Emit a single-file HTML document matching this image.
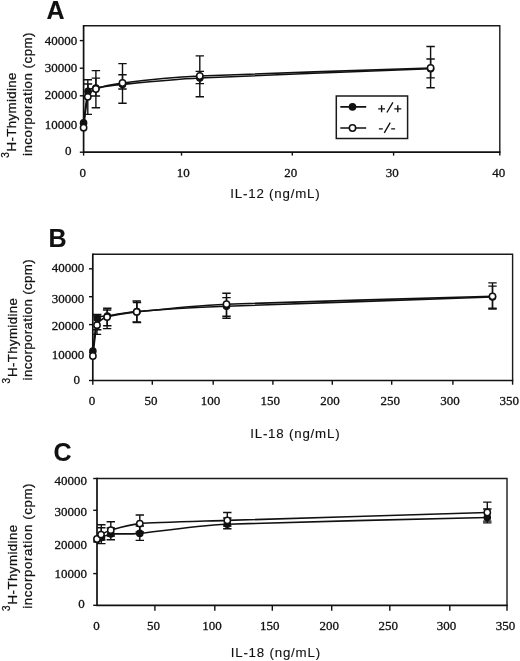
<!DOCTYPE html>
<html><head><meta charset="utf-8"><title>Thymidine incorporation</title>
<style>
html,body{margin:0;padding:0;background:#fff;}
svg{display:block;filter:grayscale(1);}
text{fill:#111;stroke:#111;stroke-width:0.12px;}
</style></head>
<body>
<svg width="520" height="661" viewBox="0 0 520 661">
<rect width="520" height="661" fill="#fff"/>
<path d="M83.6 25.8H499.8V152.2" fill="none" stroke="#1a1a1a" stroke-width="1.4"/>
<path d="M83.6 25.1V152.2H500.5" fill="none" stroke="#111" stroke-width="1.7"/>
<path d="M79.8 152.2H83.6" stroke="#111" stroke-width="1.4"/>
<path d="M79.8 123.6H83.6" stroke="#111" stroke-width="1.4"/>
<path d="M79.8 95.8H83.6" stroke="#111" stroke-width="1.4"/>
<path d="M79.8 68.2H83.6" stroke="#111" stroke-width="1.4"/>
<path d="M79.8 40.6H83.6" stroke="#111" stroke-width="1.4"/>
<path d="M83.6 152.2V155.6" stroke="#111" stroke-width="1.4"/>
<path d="M181.5 152.2V155.6" stroke="#111" stroke-width="1.4"/>
<path d="M292.3 152.2V155.6" stroke="#111" stroke-width="1.4"/>
<path d="M393.6 152.2V155.6" stroke="#111" stroke-width="1.4"/>
<path d="M499.8 152.2V155.6" stroke="#111" stroke-width="1.4"/>
<text x="71.4" y="155.35" text-anchor="end" style="font-family:'Liberation Serif',serif;font-size:13px;stroke-width:0.3px">0</text>
<text x="77.3" y="129.35" text-anchor="end" style="font-family:'Liberation Serif',serif;font-size:13px;stroke-width:0.3px">10000</text>
<text x="77.3" y="99" text-anchor="end" style="font-family:'Liberation Serif',serif;font-size:13px;stroke-width:0.3px">20000</text>
<text x="77.3" y="72.25" text-anchor="end" style="font-family:'Liberation Serif',serif;font-size:13px;stroke-width:0.3px">30000</text>
<text x="77.3" y="45.4" text-anchor="end" style="font-family:'Liberation Serif',serif;font-size:13px;stroke-width:0.3px">40000</text>
<text x="82.8" y="177.2" text-anchor="middle" style="font-family:'Liberation Serif',serif;font-size:13px;stroke-width:0.3px">0</text>
<text x="183.2" y="177.2" text-anchor="middle" style="font-family:'Liberation Serif',serif;font-size:13px;stroke-width:0.3px">10</text>
<text x="290.8" y="177.2" text-anchor="middle" style="font-family:'Liberation Serif',serif;font-size:13px;stroke-width:0.3px">20</text>
<text x="392.2" y="177.2" text-anchor="middle" style="font-family:'Liberation Serif',serif;font-size:13px;stroke-width:0.3px">30</text>
<text x="498.8" y="177.2" text-anchor="middle" style="font-family:'Liberation Serif',serif;font-size:13px;stroke-width:0.3px">40</text>
<text x="230.3" y="197.6" style="font-family:'Liberation Sans',sans-serif;font-size:13.3px;letter-spacing:0.8px">IL-12 (ng/mL)</text>
<text transform="translate(16.2,157.8) rotate(-90)" style="font-family:'Liberation Sans',sans-serif;font-size:13.3px;stroke-width:0.25px;letter-spacing:0.34px"><tspan font-size="10px" dy="-6.8">3</tspan><tspan dy="6.8" dx="0.5">H-Thymidine</tspan></text>
<text transform="translate(32,156) rotate(-90)" style="font-family:'Liberation Sans',sans-serif;font-size:13.3px;stroke-width:0.25px;letter-spacing:0.5px">incorporation (cpm)</text>
<text x="46.5" y="18.8" style="font-family:'Liberation Sans',sans-serif;font-weight:bold;font-size:25px">A</text>
<path d="M92.8 254.2H512.6V380.5" fill="none" stroke="#1a1a1a" stroke-width="1.4"/>
<path d="M92.8 253.5V380.5H513.3" fill="none" stroke="#111" stroke-width="1.7"/>
<path d="M89 380.5H92.8" stroke="#111" stroke-width="1.4"/>
<path d="M89 352.6H92.8" stroke="#111" stroke-width="1.4"/>
<path d="M89 324.6H92.8" stroke="#111" stroke-width="1.4"/>
<path d="M89 296.7H92.8" stroke="#111" stroke-width="1.4"/>
<path d="M89 268.8H92.8" stroke="#111" stroke-width="1.4"/>
<path d="M92.8 380.5V384.7" stroke="#111" stroke-width="1.4"/>
<path d="M152.3 380.5V384.7" stroke="#111" stroke-width="1.4"/>
<path d="M213.2 380.5V384.7" stroke="#111" stroke-width="1.4"/>
<path d="M272.9 380.5V384.7" stroke="#111" stroke-width="1.4"/>
<path d="M332.3 380.5V384.7" stroke="#111" stroke-width="1.4"/>
<path d="M391.7 380.5V384.7" stroke="#111" stroke-width="1.4"/>
<path d="M452.9 380.5V384.7" stroke="#111" stroke-width="1.4"/>
<path d="M512.6 380.5V384.7" stroke="#111" stroke-width="1.4"/>
<text x="80" y="383.75" text-anchor="end" style="font-family:'Liberation Serif',serif;font-size:13px;stroke-width:0.3px">0</text>
<text x="84.3" y="358.9" text-anchor="end" style="font-family:'Liberation Serif',serif;font-size:13px;stroke-width:0.3px">10000</text>
<text x="84.3" y="329.5" text-anchor="end" style="font-family:'Liberation Serif',serif;font-size:13px;stroke-width:0.3px">20000</text>
<text x="84.3" y="303" text-anchor="end" style="font-family:'Liberation Serif',serif;font-size:13px;stroke-width:0.3px">30000</text>
<text x="84.3" y="272.15" text-anchor="end" style="font-family:'Liberation Serif',serif;font-size:13px;stroke-width:0.3px">40000</text>
<text x="92.1" y="404.8" text-anchor="middle" style="font-family:'Liberation Serif',serif;font-size:13px;stroke-width:0.3px">0</text>
<text x="151.1" y="404.8" text-anchor="middle" style="font-family:'Liberation Serif',serif;font-size:13px;stroke-width:0.3px">50</text>
<text x="210.5" y="404.8" text-anchor="middle" style="font-family:'Liberation Serif',serif;font-size:13px;stroke-width:0.3px">100</text>
<text x="270.2" y="404.8" text-anchor="middle" style="font-family:'Liberation Serif',serif;font-size:13px;stroke-width:0.3px">150</text>
<text x="330" y="404.8" text-anchor="middle" style="font-family:'Liberation Serif',serif;font-size:13px;stroke-width:0.3px">200</text>
<text x="390.3" y="404.8" text-anchor="middle" style="font-family:'Liberation Serif',serif;font-size:13px;stroke-width:0.3px">250</text>
<text x="449.9" y="404.8" text-anchor="middle" style="font-family:'Liberation Serif',serif;font-size:13px;stroke-width:0.3px">300</text>
<text x="509.3" y="404.8" text-anchor="middle" style="font-family:'Liberation Serif',serif;font-size:13px;stroke-width:0.3px">350</text>
<text x="250.2" y="437.8" style="font-family:'Liberation Sans',sans-serif;font-size:13.3px;letter-spacing:0.8px">IL-18 (ng/mL)</text>
<text transform="translate(16.5,383.5) rotate(-90)" style="font-family:'Liberation Sans',sans-serif;font-size:13.3px;stroke-width:0.25px;letter-spacing:0.36px"><tspan font-size="10px" dy="-6.8">3</tspan><tspan dy="6.8" dx="0.5">H-Thymidine</tspan></text>
<text transform="translate(32.2,380.4) rotate(-90)" style="font-family:'Liberation Sans',sans-serif;font-size:13.3px;stroke-width:0.25px;letter-spacing:0.36px">incorporation (cpm)</text>
<text x="48.6" y="247.3" style="font-family:'Liberation Sans',sans-serif;font-weight:bold;font-size:25px">B</text>
<path d="M97 478.5H507V605.3" fill="none" stroke="#1a1a1a" stroke-width="1.4"/>
<path d="M97 477.8V605.3H507.7" fill="none" stroke="#111" stroke-width="1.7"/>
<path d="M93.2 605.3H97" stroke="#111" stroke-width="1.4"/>
<path d="M93.2 573.6H97" stroke="#111" stroke-width="1.4"/>
<path d="M93.2 541.9H97" stroke="#111" stroke-width="1.4"/>
<path d="M93.2 510.3H97" stroke="#111" stroke-width="1.4"/>
<path d="M93.2 478.5H97" stroke="#111" stroke-width="1.4"/>
<path d="M154.9 605.3V610.8" stroke="#111" stroke-width="1.4"/>
<path d="M214.8 605.3V610.8" stroke="#111" stroke-width="1.4"/>
<path d="M272.3 605.3V610.8" stroke="#111" stroke-width="1.4"/>
<path d="M331.7 605.3V610.8" stroke="#111" stroke-width="1.4"/>
<path d="M389.8 605.3V610.8" stroke="#111" stroke-width="1.4"/>
<path d="M449.8 605.3V610.8" stroke="#111" stroke-width="1.4"/>
<path d="M507 605.3V610.8" stroke="#111" stroke-width="1.4"/>
<text x="84.7" y="608.35" text-anchor="end" style="font-family:'Liberation Serif',serif;font-size:13px;stroke-width:0.3px">0</text>
<text x="86.9" y="577.9" text-anchor="end" style="font-family:'Liberation Serif',serif;font-size:13px;stroke-width:0.3px">10000</text>
<text x="86.9" y="548.75" text-anchor="end" style="font-family:'Liberation Serif',serif;font-size:13px;stroke-width:0.3px">20000</text>
<text x="86.9" y="515.5" text-anchor="end" style="font-family:'Liberation Serif',serif;font-size:13px;stroke-width:0.3px">30000</text>
<text x="86.9" y="484.85" text-anchor="end" style="font-family:'Liberation Serif',serif;font-size:13px;stroke-width:0.3px">40000</text>
<text x="96.6" y="629.6" text-anchor="middle" style="font-family:'Liberation Serif',serif;font-size:13px;stroke-width:0.3px">0</text>
<text x="153.5" y="629.6" text-anchor="middle" style="font-family:'Liberation Serif',serif;font-size:13px;stroke-width:0.3px">50</text>
<text x="212.1" y="629.6" text-anchor="middle" style="font-family:'Liberation Serif',serif;font-size:13px;stroke-width:0.3px">100</text>
<text x="269.8" y="629.6" text-anchor="middle" style="font-family:'Liberation Serif',serif;font-size:13px;stroke-width:0.3px">150</text>
<text x="329.2" y="629.6" text-anchor="middle" style="font-family:'Liberation Serif',serif;font-size:13px;stroke-width:0.3px">200</text>
<text x="388.3" y="629.6" text-anchor="middle" style="font-family:'Liberation Serif',serif;font-size:13px;stroke-width:0.3px">250</text>
<text x="446.5" y="629.6" text-anchor="middle" style="font-family:'Liberation Serif',serif;font-size:13px;stroke-width:0.3px">300</text>
<text x="505.5" y="629.6" text-anchor="middle" style="font-family:'Liberation Serif',serif;font-size:13px;stroke-width:0.3px">350</text>
<text x="230.7" y="657.1" style="font-family:'Liberation Sans',sans-serif;font-size:13.3px;letter-spacing:0.8px">IL-18 (ng/mL)</text>
<text transform="translate(16.5,610.9) rotate(-90)" style="font-family:'Liberation Sans',sans-serif;font-size:13.3px;stroke-width:0.25px;letter-spacing:0.42px"><tspan font-size="10px" dy="-6.8">3</tspan><tspan dy="6.8" dx="0.5">H-Thymidine</tspan></text>
<text transform="translate(32.2,608.8) rotate(-90)" style="font-family:'Liberation Sans',sans-serif;font-size:13.3px;stroke-width:0.25px;letter-spacing:0.6px">incorporation (cpm)</text>
<text x="53.5" y="461" style="font-family:'Liberation Sans',sans-serif;font-weight:bold;font-size:25px">C</text>
<path d="M87.8 79.8V114.4M83.6 79.8H92M83.6 114.4H92" fill="none" stroke="#111" stroke-width="1.4"/>
<path d="M95.9 70.6V107.8M91.7 70.6H100.1M91.7 107.8H100.1" fill="none" stroke="#111" stroke-width="1.4"/>
<path d="M122.5 63.6V103.2M118.3 63.6H126.7M118.3 103.2H126.7" fill="none" stroke="#111" stroke-width="1.4"/>
<path d="M199.8 55.9V96.7M195.6 55.9H204M195.6 96.7H204" fill="none" stroke="#111" stroke-width="1.4"/>
<path d="M430.6 46.5V87.8M426.4 46.5H434.8M426.4 87.8H434.8" fill="none" stroke="#111" stroke-width="1.4"/>
<path d="M88 84V96M83.8 84H92.2M83.8 96H92.2" fill="none" stroke="#111" stroke-width="1.4"/>
<path d="M95.9 78.1V96M91.7 78.1H100.1M91.7 96H100.1" fill="none" stroke="#111" stroke-width="1.4"/>
<path d="M122.5 74.8V89M118.3 74.8H126.7M118.3 89H126.7" fill="none" stroke="#111" stroke-width="1.4"/>
<path d="M199.8 71.4V83.6M195.6 71.4H204M195.6 83.6H204" fill="none" stroke="#111" stroke-width="1.4"/>
<path d="M430.6 59V77.9M426.4 59H434.8M426.4 77.9H434.8" fill="none" stroke="#111" stroke-width="1.4"/>
<path d="M83.6 122.9 C84.04 119.75 86.77 94.89 88 91.4 C89.23 87.91 92.45 88.7 95.9 88 C99.35 87.3 112.11 85.4 122.5 84.4 C132.89 83.4 168.99 79.56 199.8 78 C230.61 76.44 407.52 69.72 430.6 68.8" fill="none" stroke="#111" stroke-width="1.6" stroke-linejoin="round"/>
<path d="M83.6 127.7 C84.02 124.61 86.57 100.67 87.8 96.8 C89.03 92.93 92.43 90.38 95.9 89 C99.37 87.62 112.11 84.3 122.5 83 C132.89 81.7 168.99 77.5 199.8 76 C230.61 74.5 407.52 68.8 430.6 68" fill="none" stroke="#111" stroke-width="1.6" stroke-linejoin="round"/>
<circle cx="83.6" cy="122.9" r="3.15" fill="#111" stroke="#111" stroke-width="1.3"/>
<circle cx="88" cy="91.4" r="3.15" fill="#111" stroke="#111" stroke-width="1.3"/>
<circle cx="95.9" cy="88" r="3.15" fill="#111" stroke="#111" stroke-width="1.3"/>
<circle cx="122.5" cy="84.4" r="3.15" fill="#111" stroke="#111" stroke-width="1.3"/>
<circle cx="199.8" cy="78" r="3.15" fill="#111" stroke="#111" stroke-width="1.3"/>
<circle cx="430.6" cy="68.8" r="3.15" fill="#111" stroke="#111" stroke-width="1.3"/>
<circle cx="83.6" cy="127.7" r="3.15" fill="#fff" stroke="#111" stroke-width="1.5"/>
<circle cx="87.8" cy="96.8" r="3.15" fill="#fff" stroke="#111" stroke-width="1.5"/>
<circle cx="95.9" cy="89" r="3.15" fill="#fff" stroke="#111" stroke-width="1.5"/>
<circle cx="122.5" cy="83" r="3.15" fill="#fff" stroke="#111" stroke-width="1.5"/>
<circle cx="199.8" cy="76" r="3.15" fill="#fff" stroke="#111" stroke-width="1.5"/>
<circle cx="430.6" cy="68" r="3.15" fill="#fff" stroke="#111" stroke-width="1.5"/>
<path d="M97 316V334.4M92.8 316H101.2M92.8 334.4H101.2" fill="none" stroke="#111" stroke-width="1.4"/>
<path d="M107.1 310V328.6M102.9 310H111.3M102.9 328.6H111.3" fill="none" stroke="#111" stroke-width="1.4"/>
<path d="M136.7 301V322M132.5 301H140.9M132.5 322H140.9" fill="none" stroke="#111" stroke-width="1.4"/>
<path d="M226.5 293.3V318.3M222.3 293.3H230.7M222.3 318.3H230.7" fill="none" stroke="#111" stroke-width="1.4"/>
<path d="M492.5 282.9V309M488.3 282.9H496.7M488.3 309H496.7" fill="none" stroke="#111" stroke-width="1.4"/>
<path d="M97.2 314.5V329.8M93 314.5H101.4M93 329.8H101.4" fill="none" stroke="#111" stroke-width="1.4"/>
<path d="M107.3 308.2V325.8M103.1 308.2H111.5M103.1 325.8H111.5" fill="none" stroke="#111" stroke-width="1.4"/>
<path d="M137 302.5V322.5M132.8 302.5H141.2M132.8 322.5H141.2" fill="none" stroke="#111" stroke-width="1.4"/>
<path d="M226.5 297.6V316.3M222.3 297.6H230.7M222.3 316.3H230.7" fill="none" stroke="#111" stroke-width="1.4"/>
<path d="M492.5 286.1V308.3M488.3 286.1H496.7M488.3 308.3H496.7" fill="none" stroke="#111" stroke-width="1.4"/>
<path d="M92.9 351.1 C93.33 347.84 95.75 322.01 97.2 318.5 C98.65 314.99 103.42 316.7 107.4 316 C111.38 315.3 125.09 312.47 137 311.5 C148.91 310.53 190.95 307.75 226.5 306.3 C262.05 304.85 465.9 297.93 492.5 297" fill="none" stroke="#111" stroke-width="1.6" stroke-linejoin="round"/>
<path d="M92.9 356 C93.31 352.92 95.58 329.09 97 325.2 C98.42 321.31 103.13 318.43 107.1 317.1 C111.07 315.77 124.76 313.19 136.7 311.9 C148.64 310.61 190.92 305.76 226.5 304.2 C262.08 302.64 465.9 297.09 492.5 296.3" fill="none" stroke="#111" stroke-width="1.6" stroke-linejoin="round"/>
<circle cx="92.9" cy="351.1" r="3.15" fill="#111" stroke="#111" stroke-width="1.3"/>
<circle cx="97.2" cy="318.5" r="3.15" fill="#111" stroke="#111" stroke-width="1.3"/>
<circle cx="107.4" cy="316" r="3.15" fill="#111" stroke="#111" stroke-width="1.3"/>
<circle cx="137" cy="311.5" r="3.15" fill="#111" stroke="#111" stroke-width="1.3"/>
<circle cx="226.5" cy="306.3" r="3.15" fill="#111" stroke="#111" stroke-width="1.3"/>
<circle cx="492.5" cy="297" r="3.15" fill="#111" stroke="#111" stroke-width="1.3"/>
<circle cx="92.9" cy="356" r="3.15" fill="#fff" stroke="#111" stroke-width="1.5"/>
<circle cx="97" cy="325.2" r="3.15" fill="#fff" stroke="#111" stroke-width="1.5"/>
<circle cx="107.1" cy="317.1" r="3.15" fill="#fff" stroke="#111" stroke-width="1.5"/>
<circle cx="136.7" cy="311.9" r="3.15" fill="#fff" stroke="#111" stroke-width="1.5"/>
<circle cx="226.5" cy="304.2" r="3.15" fill="#fff" stroke="#111" stroke-width="1.5"/>
<circle cx="492.5" cy="296.3" r="3.15" fill="#fff" stroke="#111" stroke-width="1.5"/>
<path d="M101.3 524.8V540M97.1 524.8H105.5M97.1 540H105.5" fill="none" stroke="#111" stroke-width="1.4"/>
<path d="M110.8 521.7V536M106.6 521.7H115M106.6 536H115" fill="none" stroke="#111" stroke-width="1.4"/>
<path d="M139.8 515V532M135.6 515H144M135.6 532H144" fill="none" stroke="#111" stroke-width="1.4"/>
<path d="M227.3 512.5V526M223.1 512.5H231.5M223.1 526H231.5" fill="none" stroke="#111" stroke-width="1.4"/>
<path d="M487.3 502.1V521.1M483.1 502.1H491.5M483.1 521.1H491.5" fill="none" stroke="#111" stroke-width="1.4"/>
<path d="M101.3 527.7V543.6M97.1 527.7H105.5M97.1 543.6H105.5" fill="none" stroke="#111" stroke-width="1.4"/>
<path d="M110.8 528V539.8M106.6 528H115M106.6 539.8H115" fill="none" stroke="#111" stroke-width="1.4"/>
<path d="M139.8 526V540.4M135.6 526H144M135.6 540.4H144" fill="none" stroke="#111" stroke-width="1.4"/>
<path d="M227.3 518V528.8M223.1 518H231.5M223.1 528.8H231.5" fill="none" stroke="#111" stroke-width="1.4"/>
<path d="M487.3 509V522.9M483.1 509H491.5M483.1 522.9H491.5" fill="none" stroke="#111" stroke-width="1.4"/>
<path d="M97.2 539.5 C97.63 539.3 100.14 538.05 101.5 537.5 C102.86 536.95 106.97 534.41 110.8 534 C114.63 533.59 128.15 534.38 139.8 533.4 C151.45 532.42 192.55 525.79 227.3 524.2 C262.05 522.61 461.3 518.17 487.3 517.5" fill="none" stroke="#111" stroke-width="1.6" stroke-linejoin="round"/>
<path d="M97 539 C97.4 538.56 99.62 535.48 101 534.6 C102.38 533.72 106.92 531.3 110.8 530.2 C114.68 529.1 128.15 524.58 139.8 523.6 C151.45 522.62 192.55 521.51 227.3 520.4 C262.05 519.29 461.3 513.29 487.3 512.5" fill="none" stroke="#111" stroke-width="1.6" stroke-linejoin="round"/>
<circle cx="97.2" cy="539.5" r="3.15" fill="#111" stroke="#111" stroke-width="1.3"/>
<circle cx="101.5" cy="537.5" r="3.15" fill="#111" stroke="#111" stroke-width="1.3"/>
<circle cx="110.8" cy="534" r="3.15" fill="#111" stroke="#111" stroke-width="1.3"/>
<circle cx="139.8" cy="533.4" r="3.15" fill="#111" stroke="#111" stroke-width="1.3"/>
<circle cx="227.3" cy="524.2" r="3.15" fill="#111" stroke="#111" stroke-width="1.3"/>
<circle cx="487.3" cy="517.5" r="3.15" fill="#111" stroke="#111" stroke-width="1.3"/>
<circle cx="97" cy="539" r="3.15" fill="#fff" stroke="#111" stroke-width="1.5"/>
<circle cx="101" cy="534.6" r="3.15" fill="#fff" stroke="#111" stroke-width="1.5"/>
<circle cx="110.8" cy="530.2" r="3.15" fill="#fff" stroke="#111" stroke-width="1.5"/>
<circle cx="139.8" cy="523.6" r="3.15" fill="#fff" stroke="#111" stroke-width="1.5"/>
<circle cx="227.3" cy="520.4" r="3.15" fill="#fff" stroke="#111" stroke-width="1.5"/>
<circle cx="487.3" cy="512.5" r="3.15" fill="#fff" stroke="#111" stroke-width="1.5"/>
<rect x="336.3" y="96.0" width="71.3" height="42.5" fill="#fff" stroke="#1a1a1a" stroke-width="1.5"/>
<path d="M340.3 106.9H366.2M340.3 128.0H366.2" stroke="#111" stroke-width="1.6"/>
<circle cx="352.5" cy="106.9" r="3.15" fill="#111" stroke="#111" stroke-width="1.3"/>
<circle cx="352.5" cy="128" r="3.15" fill="#fff" stroke="#111" stroke-width="1.5"/>
<path d="M378.2 108.8H385M381.6 105.2V112.3M392.9 102.3L386.9 112.5M394.3 108.8H401.3M397.8 105.2V112.3" fill="none" stroke="#111" stroke-width="1.35"/>
<path d="M378.9 128.8H382.8M390.2 122.6L384.3 132.9M391.2 128.8H395.1" fill="none" stroke="#111" stroke-width="1.35"/>
</svg>
</body></html>
